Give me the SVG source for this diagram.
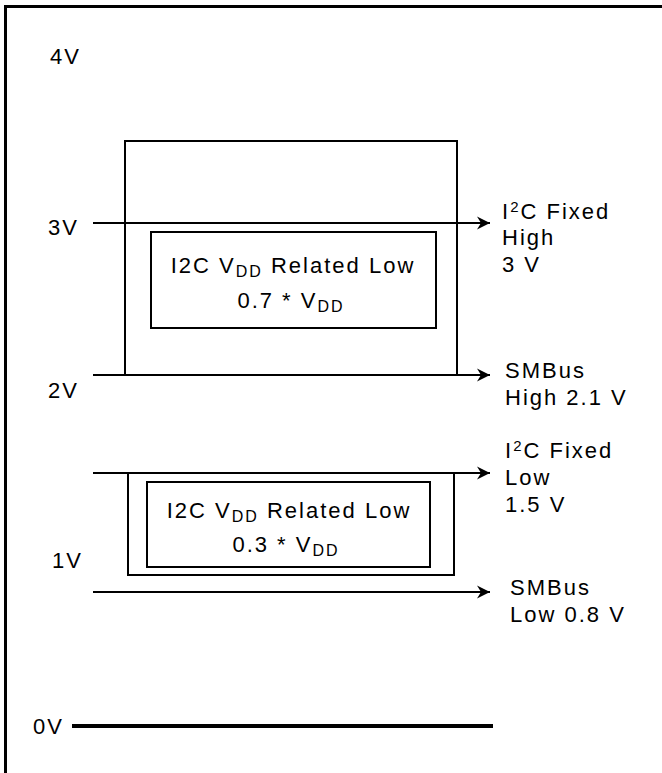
<svg xmlns="http://www.w3.org/2000/svg" width="662" height="773" viewBox="0 0 662 773">
<style>
text{font-family:"Liberation Sans",Arial,sans-serif;font-size:22px;letter-spacing:2px;fill:#000}
.sub{font-size:16px}
.sup{font-size:15px}
.ln{stroke:#000;stroke-width:2;fill:none}
.box{stroke:#000;stroke-width:2;fill:none}
</style>
<defs>
<marker id="arr" markerUnits="userSpaceOnUse" markerWidth="16" markerHeight="16" viewBox="0 -8 16 16" refX="15" refY="0" orient="auto">
<path d="M15,0 L2,-6.5 L6,0 L2,6.5 Z" fill="#000"/>
</marker>
</defs>
<path d="M5.5,780 V6.5 H670" fill="none" stroke="#000" stroke-width="3"/>
<g id="axis-labels">
<text x="50" y="64">4V</text>
<text x="48" y="235">3V</text>
<text x="48" y="398">2V</text>
<text x="52" y="568">1V</text>
<text x="33" y="734">0V</text>
</g>
<g id="high-region">
<rect class="box" x="125" y="141" width="332" height="234"/>
</g>
<g id="high-related">
<rect class="box" x="151" y="232" width="285" height="96"/>
<text x="293" y="273" text-anchor="middle">I2C V<tspan class="sub" dy="4">DD</tspan><tspan dy="-4"> Related Low</tspan></text>
<text x="291" y="308" text-anchor="middle">0.7 * V<tspan class="sub" dy="4">DD</tspan></text>
</g>
<g id="low-region">
<rect class="box" x="128" y="473" width="326" height="102"/>
</g>
<g id="low-related">
<rect class="box" x="147" y="482" width="283" height="85"/>
<text x="289" y="518" text-anchor="middle">I2C V<tspan class="sub" dy="4">DD</tspan><tspan dy="-4"> Related Low</tspan></text>
<text x="286" y="552" text-anchor="middle">0.3 * V<tspan class="sub" dy="4">DD</tspan></text>
</g>
<g id="connectors">
<line class="ln" x1="93" y1="223" x2="490" y2="223" marker-end="url(#arr)"/>
<line class="ln" x1="93" y1="375" x2="490" y2="375" marker-end="url(#arr)"/>
<line class="ln" x1="93" y1="473" x2="490" y2="473" marker-end="url(#arr)"/>
<line class="ln" x1="93" y1="592" x2="490" y2="592" marker-end="url(#arr)"/>
<line x1="72" y1="726" x2="493" y2="726" stroke="#000" stroke-width="4"/>
</g>
<g id="i2c-fixed-high">
<text x="502" y="219">I<tspan class="sup" dy="-7">2</tspan><tspan dy="7">C Fixed</tspan></text>
<text x="502" y="245">High</text>
<text x="502" y="272">3 V</text>
</g>
<g id="smbus-high">
<text x="505" y="378">SMBus</text>
<text x="505" y="405">High 2.1 V</text>
</g>
<g id="i2c-fixed-low">
<text x="505" y="458">I<tspan class="sup" dy="-7">2</tspan><tspan dy="7">C Fixed</tspan></text>
<text x="505" y="485">Low</text>
<text x="505" y="512">1.5 V</text>
</g>
<g id="smbus-low">
<text x="510" y="595">SMBus</text>
<text x="510" y="622">Low 0.8 V</text>
</g>
</svg>
